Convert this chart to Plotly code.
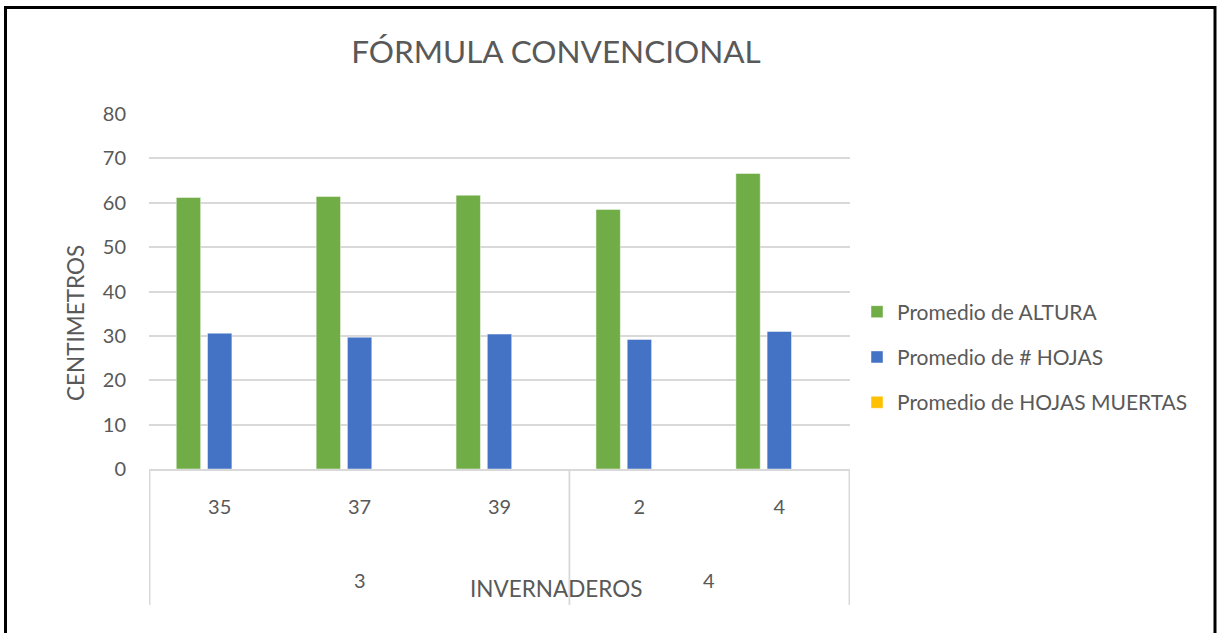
import plotly.graph_objects as go

# ---- data ----
groups = ["3", "3", "3", "4", "4"]
sub_labels = ["35", "37", "39", "2", "4"]
altura = [61.2, 61.4, 61.7, 58.5, 66.6]
hojas = [30.6, 29.7, 30.4, 29.2, 31.0]
hojas_muertas = [0, 0, 0, 0, 0]
series_names = ["Promedio de ALTURA", "Promedio de # HOJAS", "Promedio de HOJAS MUERTAS"]
colors = ["#70AD47", "#4472C4", "#FFC000"]
title_text = "FÓRMULA CONVENCIONAL"
y_title = "CENTIMETROS"
x_title = "INVERNADEROS"

W, H = 1220, 633
L, R, T, B = 149, 370, 114, 164
PW, PH = W - L - R, H - T - B

def px_x(x):
    return (x - L) / PW

def px_y(y):
    return (H - B - y) / PH

FONT = "Lato"
GREY = "#595959"

fig = go.Figure()
for name, vals, col in zip(series_names, [altura, hojas, hojas_muertas], colors):
    fig.add_trace(go.Bar(
        x=sub_labels, y=vals, name=name, legendgroup=name,
        marker=dict(color=col, line=dict(color="rgba(255,255,255,0.45)", width=1)),
    ))

# group labels and dividers
unique_groups = []
for i, g in enumerate(groups):
    if not unique_groups or unique_groups[-1][0] != g:
        unique_groups.append([g, i, i])
    else:
        unique_groups[-1][2] = i

shapes = []
annotations = []
for g, i0, i1 in unique_groups:
    annotations.append(dict(
        x=(i0 + i1) / 2, xref="x", y=px_y(580), yref="paper",
        text=g, showarrow=False, yanchor="middle",
        font=dict(family=FONT, size=20, color=GREY)))
    for xb in (i0 - 0.5, i1 + 0.5):
        shapes.append(dict(type="line", xref="x", yref="paper",
                           x0=xb, x1=xb, y0=0, y1=px_y(605),
                           line=dict(color="#D9D9D9", width=1.5)))

annotations.append(dict(
    x=px_x(556), xref="paper", y=px_y(588), yref="paper",
    text=x_title, showarrow=False, yanchor="middle", xanchor="center",
    font=dict(family=FONT, size=22.5, color=GREY)))
annotations.append(dict(
    x=px_x(75), xref="paper", y=px_y(323), yref="paper",
    text=y_title, showarrow=False, textangle=-90,
    yanchor="middle", xanchor="center",
    font=dict(family=FONT, size=22.5, color=GREY)))

# outer chart border
shapes.append(dict(type="rect", xref="paper", yref="paper",
                   x0=px_x(5.5), x1=px_x(1215), y0=px_y(660), y1=px_y(7.5),
                   line=dict(color="black", width=3), fillcolor="rgba(0,0,0,0)",
                   layer="above"))

fig.update_layout(
    width=W, height=H,
    margin=dict(l=L, r=R, t=T, b=B),
    paper_bgcolor="white", plot_bgcolor="white",
    barmode="group", bargap=0.33, bargroupgap=0.22,
    title=dict(text=title_text, x=556 / W, xref="container", xanchor="center",
               y=1 - 52 / H, yref="container", yanchor="middle",
               font=dict(family=FONT, size=31.5, color=GREY)),
    font=dict(family=FONT, color=GREY),
    legend=dict(x=px_x(857), y=px_y(357), xanchor="left", yanchor="middle",
                font=dict(family=FONT, size=21, color=GREY),
                tracegroupgap=15, itemwidth=30, bgcolor="rgba(0,0,0,0)"),
    xaxis=dict(type="category", showgrid=False, ticks="", showline=True,
               linecolor="#D9D9D9", linewidth=1.5,
               tickfont=dict(family=FONT, size=20, color=GREY),
               ticklabelstandoff=19),
    yaxis=dict(range=[0, 80], dtick=10, showgrid=True, gridcolor="#D9D9D9",
               gridwidth=1.5, zeroline=False, showline=False, ticks="",
               tickfont=dict(family=FONT, size=20, color=GREY),
               ticklabelstandoff=22),
    shapes=shapes, annotations=annotations,
    showlegend=True,
)

fig.write_html("out.html", config={"displayModeBar": False},
               post_script="document.body.style.margin='0';document.body.style.overflow='hidden';")
